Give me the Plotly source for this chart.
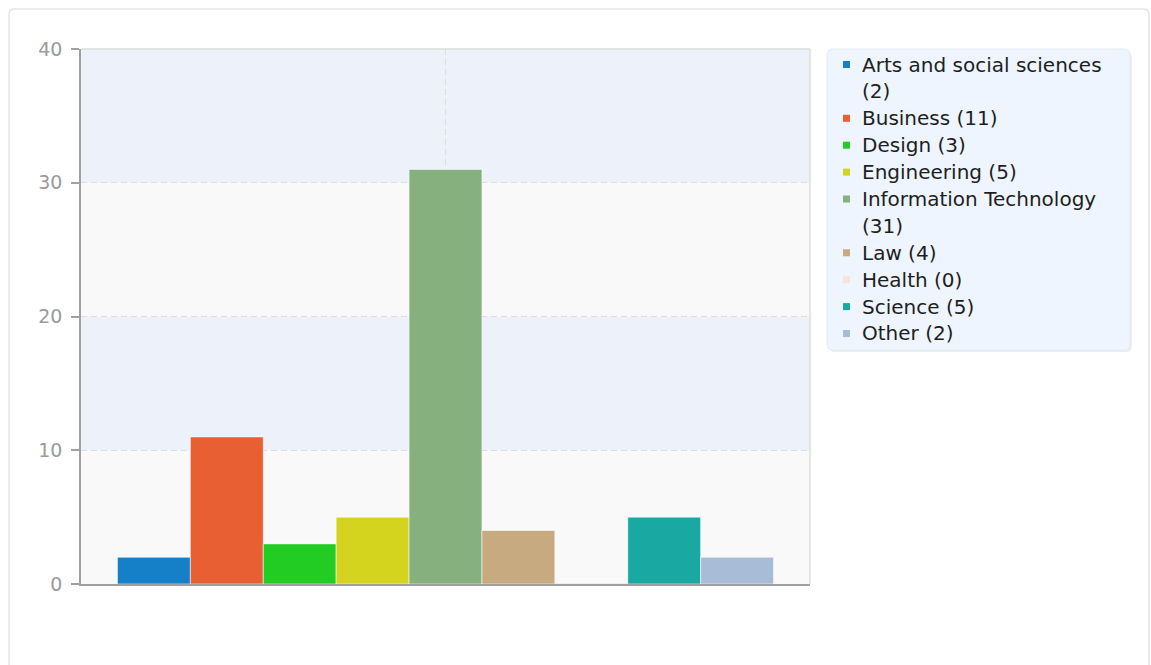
import plotly.graph_objects as go

# Enrolment counts by faculty
categories = ["Arts and social sciences", "Business", "Design", "Engineering",
              "Information Technology", "Law", "Health", "Science", "Other"]
counts = [2, 11, 3, 5, 31, 4, 0, 5, 2]
colors = ["#1580c8", "#e85f33", "#22cc22", "#d4d41e", "#86b07e",
          "#c8aa80", "#fbe2d8", "#1aa8a2", "#a8bcd8"]
y_ticks = [0, 10, 20, 30, 40]

W, H = 1151, 665
ML, MR, MT, MB = 81, 341, 49, 81
PW, PH = W - ML - MR, H - MT - MB


def px_x(px):
    return (px - ML) / PW


def px_y(py):
    return (H - MB - py) / PH


def rounded_rect(x0, y0, x1, y1, r):
    """Rounded rectangle path in paper units from pixel corners."""
    rx, ry = r / PW, r / PH
    a, b, c, d = px_x(x0), px_y(y1), px_x(x1), px_y(y0)
    return (f"M {a + rx},{b} L {c - rx},{b} Q {c},{b} {c},{b + ry} "
            f"L {c},{d - ry} Q {c},{d} {c - rx},{d} L {a + rx},{d} "
            f"Q {a},{d} {a},{d - ry} L {a},{b + ry} Q {a},{b} {a + rx},{b} Z")


fig = go.Figure()
for name, val, col in zip(categories, counts, colors):
    line_col = col if val == 0 else "rgba(255,255,255,0.55)"
    fig.add_trace(go.Bar(x=[""], y=[val], name=name, marker_color=col,
                         marker_line=dict(color=line_col, width=1),
                         showlegend=False, hoverinfo="name+y"))

shapes = []
# card outline
shapes.append(dict(type="path", xref="paper", yref="paper",
                   path=rounded_rect(9, 9, 1149, 690, 5),
                   line=dict(color="#e6e6e6", width=1.5), fillcolor="rgba(0,0,0,0)",
                   layer="below"))
# alternating bands
band_fill = ["#f9f9f9", "#edf2fa", "#f9f9f9", "#edf2fa"]
for i in range(len(y_ticks) - 1):
    shapes.append(dict(type="rect", xref="paper", yref="y", x0=0, x1=1,
                       y0=y_ticks[i], y1=y_ticks[i + 1], fillcolor=band_fill[i],
                       line=dict(width=0), layer="below"))
# light top and right frame edges
shapes.append(dict(type="line", xref="paper", yref="paper", x0=0, x1=1, y0=1, y1=1,
                   line=dict(color="#dcdcdc", width=1.5)))
shapes.append(dict(type="line", xref="paper", yref="paper", x0=1, x1=1, y0=0, y1=1,
                   line=dict(color="#dcdcdc", width=1.5)))

# legend panel
shapes.append(dict(type="path", xref="paper", yref="paper",
                   path=rounded_rect(829, 52, 1132, 352, 6),
                   line=dict(width=0), fillcolor="rgba(0,0,0,0.07)"))
shapes.append(dict(type="path", xref="paper", yref="paper",
                   path=rounded_rect(827, 49, 1130, 350, 6),
                   line=dict(color="#e4ecf6", width=1), fillcolor="#eef5fe"))

annotations = []
line_pitch = 26.9
first_line = 64.5
line_no = 0
for name, val, col in zip(categories, counts, colors):
    label = f"{name} ({val})"
    lines = [name, f"({val})"] if len(label) > 22 else [label]
    cy = first_line + line_pitch * line_no
    shapes.append(dict(type="rect", xref="paper", yref="paper",
                       x0=px_x(843), x1=px_x(850), y0=px_y(cy - 3.5), y1=px_y(cy + 3.5),
                       fillcolor=col, line=dict(width=0)))
    for txt in lines:
        cy = first_line + line_pitch * line_no
        annotations.append(dict(xref="paper", yref="paper", x=px_x(860), y=px_y(cy),
                                xanchor="left", yanchor="middle", text=txt,
                                showarrow=False,
                                font=dict(family="DejaVu Sans", size=20, color="#1e1e1e")))
        line_no += 1

fig.update_layout(
    width=W, height=H,
    margin=dict(l=ML, r=MR, t=MT, b=MB),
    paper_bgcolor="white", plot_bgcolor="rgba(0,0,0,0)",
    barmode="group", bargap=0.1, bargroupgap=0,
    showlegend=False,
    shapes=shapes, annotations=annotations,
    xaxis=dict(range=[-0.5, 0.5], showticklabels=False, ticks="",
               showgrid=True, gridcolor="#dedede", griddash="6px,4px", gridwidth=1,
               showline=True, linecolor="#a0a0a0", linewidth=1.5, zeroline=False,
               fixedrange=True),
    yaxis=dict(range=[0, 40], tickvals=y_ticks, ticks="outside", ticklen=8,
               tickcolor="#a0a0a0", tickwidth=1.5, ticklabelstandoff=5,
               showgrid=True, gridcolor="#dedede", griddash="6px,4px", gridwidth=1,
               showline=True, linecolor="#a0a0a0", linewidth=1.5, zeroline=False,
               tickfont=dict(family="DejaVu Sans", size=19, color="#9a9a9a"),
               fixedrange=True),
    font=dict(family="DejaVu Sans"),
)

fig.write_html("out.html")
